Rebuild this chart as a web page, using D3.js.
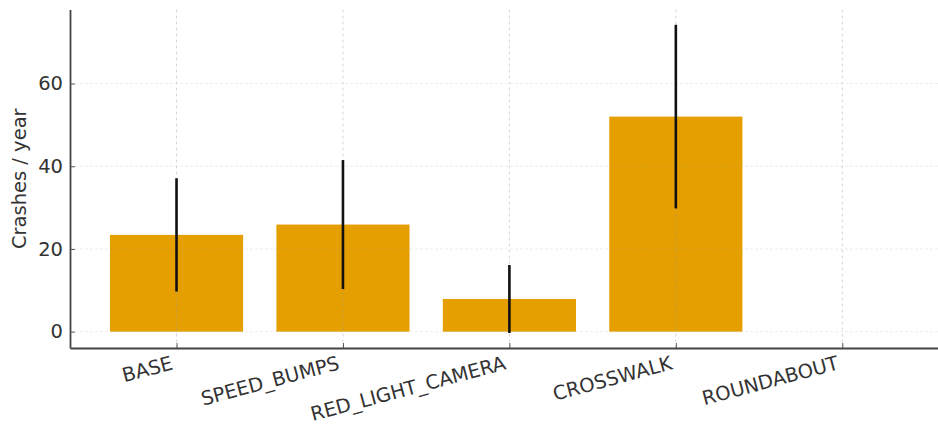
<!DOCTYPE html>
<html>
<head>
<meta charset="utf-8">
<script src="https://cdn.jsdelivr.net/npm/d3@7"></script>
<style>
  body { margin: 0; background: #fff; }
  text { font-family: "DejaVu Sans", sans-serif; fill: #333; }
</style>
</head>
<body>
<svg id="chart" width="938" height="426"></svg>
<script>
// data
let categories = ["BASE", "SPEED_BUMPS", "RED_LIGHT_CAMERA", "CROSSWALK", "ROUNDABOUT"];
let crashes = [23.4, 25.9, 7.9, 52.0, 0];
let errors = [13.7, 15.6, 8.2, 22.2, null];
let yTicks = [0, 20, 40, 60];

let margin = {left: 70, top: 9.5, bottom: 348},
    width = 938,
    fontSize = 19.5,
    barWidth = 0.8;

let svg = d3.select("#chart");

let xScale = d3.scaleLinear()
    .domain([-0.64, categories.length - 1 + 0.64])
    .range([margin.left, 948.8]);

let yScale = d3.scaleLinear()
    .domain([-3.95, 77.9])
    .range([margin.bottom, margin.top]);

let data = categories.map((c, i) => ({cat: c, i: i, v: crashes[i], e: errors[i]}));

// bars
svg.append("g").selectAll("rect")
    .data(data)
    .enter()
    .append("rect")
    .attr("x", d => xScale(d.i - barWidth / 2))
    .attr("width", d => xScale(d.i + barWidth / 2) - xScale(d.i - barWidth / 2))
    .attr("y", d => yScale(Math.max(d.v, 0)))
    .attr("height", d => Math.abs(yScale(d.v) - yScale(0)))
    .style("fill", "#E69F00");

// grid (drawn over bars like the original)
let grid = svg.append("g").attr("class", "grid");
grid.selectAll("line.h")
    .data(yTicks)
    .enter()
    .append("line")
    .attr("x1", margin.left).attr("x2", width)
    .attr("y1", d => yScale(d)).attr("y2", d => yScale(d))
    .style("stroke", "#999")
    .style("stroke-opacity", 0.18)
    .style("stroke-dasharray", "3,2")
    .style("stroke-width", 1);
grid.selectAll("line.v")
    .data(data)
    .enter()
    .append("line")
    .attr("x1", d => xScale(d.i)).attr("x2", d => xScale(d.i))
    .attr("y1", margin.top).attr("y2", margin.bottom)
    .style("stroke", "#999")
    .style("stroke-opacity", 0.4)
    .style("stroke-dasharray", "3,3")
    .style("stroke-width", 1);

// error bars
svg.append("g").selectAll("line")
    .data(data.filter(d => d.e != null))
    .enter()
    .append("line")
    .attr("x1", d => xScale(d.i)).attr("x2", d => xScale(d.i))
    .attr("y1", d => yScale(d.v - d.e))
    .attr("y2", d => yScale(d.v + d.e))
    .style("stroke", "#111")
    .style("stroke-width", 2.6);

// y axis
let yAxis = svg.append("g")
    .attr("transform", "translate(" + margin.left + ",0)")
    .call(d3.axisLeft(yScale).tickValues(yTicks).tickSizeInner(-5).tickSizeOuter(0).tickPadding(7));
yAxis.select(".domain").style("stroke", "#444").style("stroke-width", 1.8);
yAxis.selectAll(".tick line").style("stroke", "#555");
yAxis.selectAll(".tick text")
    .attr("x", -7)
    .style("font-size", fontSize + "px")
    .style("font-family", "DejaVu Sans")
    .style("fill", "#333");

// x axis
let xAxis = svg.append("g")
    .attr("transform", "translate(0," + margin.bottom + ")")
    .call(d3.axisBottom(xScale)
        .tickValues(d3.range(categories.length))
        .tickFormat(i => categories[i])
        .tickSizeInner(-5).tickSizeOuter(0));
xAxis.select(".domain").style("stroke", "#444").style("stroke-width", 1.8);
xAxis.selectAll(".tick line").style("stroke", "#555");
xAxis.selectAll(".tick text")
    .attr("x", 0).attr("y", 0).attr("dy", 0)
    .attr("text-anchor", "end")
    .attr("transform", "translate(-3,21) rotate(-15)")
    .style("font-size", fontSize + "px")
    .style("font-family", "DejaVu Sans")
    .style("fill", "#333");

// y label
svg.append("text")
    .attr("transform", "translate(26," + ((margin.top + margin.bottom) / 2) + ") rotate(-90)")
    .attr("text-anchor", "middle")
    .style("font-size", fontSize + "px")
    .text("Crashes / year");
</script>
</body>
</html>
